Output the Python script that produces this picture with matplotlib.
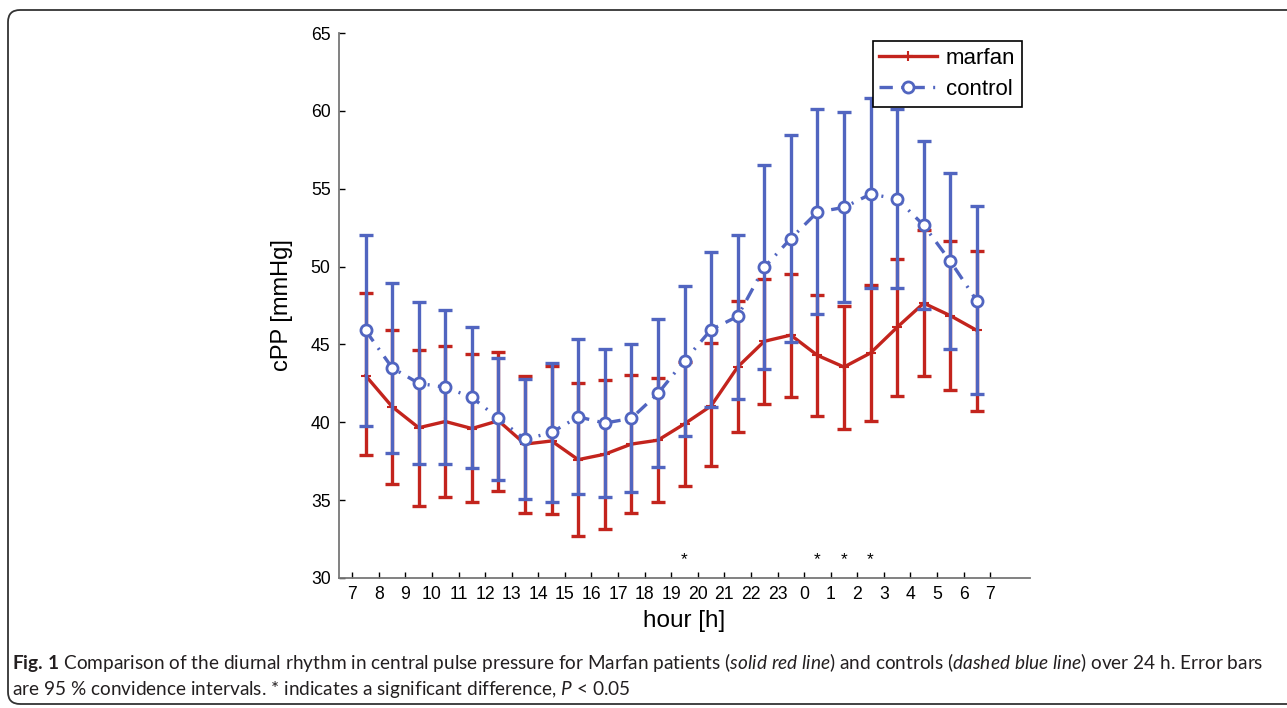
import numpy as np
import matplotlib
matplotlib.use("Agg")
import matplotlib.pyplot as plt
from matplotlib.patches import FancyBboxPatch
from matplotlib.transforms import IdentityTransform

# values (cPP in mmHg)
hour_labels = ['7', '8', '9', '10', '11', '12', '13', '14', '15', '16', '17', '18', '19',
               '20', '21', '22', '23', '0', '1', '2', '3', '4', '5', '6', '7']

marfan_mean = [43.0, 41.0, 39.65, 40.05, 39.6, 40.1, 38.6, 38.8, 37.6, 37.95, 38.6, 38.85,
               39.9, 41.05, 43.55, 45.2, 45.6, 44.3, 43.55, 44.45, 46.1, 47.65, 46.85, 45.9]
marfan_upper = [48.3, 45.9, 44.65, 44.9, 44.4, 44.5, 43.0, 43.6, 42.55, 42.7, 43.05, 42.85,
                43.9, 45.1, 47.8, 49.2, 49.55, 48.2, 47.5, 48.8, 50.5, 52.35, 51.65, 51.0]
marfan_lower = [37.9, 36.05, 34.6, 35.2, 34.85, 35.6, 34.2, 34.1, 32.7, 33.15, 34.2, 34.85,
                35.9, 37.2, 39.35, 41.2, 41.6, 40.4, 39.55, 40.1, 41.7, 42.95, 42.05, 40.75]

control_mean = [45.9, 43.5, 42.5, 42.25, 41.6, 40.25, 38.9, 39.35, 40.35, 39.95, 40.25, 41.85,
                43.95, 45.95, 46.8, 49.95, 51.8, 53.5, 53.8, 54.65, 54.35, 52.65, 50.35, 47.8]
control_upper = [52.05, 48.95, 47.75, 47.2, 46.15, 44.15, 42.8, 43.8, 45.35, 44.7, 45.0, 46.65,
                 48.75, 50.95, 52.05, 56.5, 58.45, 60.15, 59.95, 60.85, 60.1, 58.05, 56.0, 53.9]
control_lower = [39.75, 38.05, 37.3, 37.3, 37.05, 36.3, 35.05, 34.9, 35.4, 35.2, 35.55, 37.15,
                 39.1, 40.95, 41.5, 43.4, 45.15, 46.95, 47.7, 48.6, 48.65, 47.3, 44.7, 41.8]

# half-hour slots with a significant difference
signif_idx = [12, 17, 18, 19]

red = '#c3241d'
blue = '#5165c0'

plt.rcParams['font.family'] = ['Liberation Sans', 'DejaVu Sans']
plt.rcParams['mathtext.fontset'] = 'custom'
plt.rcParams['mathtext.rm'] = 'Lato'
plt.rcParams['mathtext.it'] = 'Lato:italic'
plt.rcParams['mathtext.bf'] = 'Lato:bold'

fig = plt.figure(figsize=(12.87, 7.08), dpi=100)
ax = fig.add_axes([339 / 1287, 1 - 578 / 708, (1030 - 339) / 1287, (578 - 33) / 708])

tick_pos = np.arange(len(hour_labels))
x = np.arange(len(marfan_mean)) + 0.5

mm = np.array(marfan_mean)
cm = np.array(control_mean)
m_err = [mm - np.array(marfan_lower), np.array(marfan_upper) - mm]
c_err = [cm - np.array(control_lower), np.array(control_upper) - cm]

# marfan (solid red)
ax.errorbar(x, mm, yerr=m_err, fmt='none', ecolor=red, elinewidth=2.4,
            capsize=5, capthick=2.4, zorder=2)
ax.plot(x, mm, color=red, lw=2.4, marker='+', ms=7, mew=1.5, label='marfan', zorder=3)

# control (dash-dot blue)
ax.errorbar(x, cm, yerr=c_err, fmt='none', ecolor=blue, elinewidth=2.4,
            capsize=5, capthick=2.4, zorder=4)
ax.plot(x, cm, color=blue, lw=2.4, dashes=(4, 2.5, 0.6, 2.5), marker='o', ms=8,
        mfc='white', mew=2, label='control', zorder=5)

for i in signif_idx:
    ax.text(x[i], 31.2, '*', ha='center', va='center', fontsize=12.5)

ax.set_xlim(-0.5, 25.5)
ax.set_ylim(30, 65)
ax.set_xticks(tick_pos)
ax.set_xticklabels(hour_labels)
ax.set_yticks(np.arange(30, 66, 5))
ax.tick_params(direction='in', length=4.5, width=1, labelsize=12.7, colors='black', pad=6)
for side in ['top', 'right']:
    ax.spines[side].set_visible(False)
for side in ['left', 'bottom']:
    ax.spines[side].set_color('#777777')
    ax.spines[side].set_linewidth(1.3)

ax.set_xlabel('hour [h]', fontsize=17.5, labelpad=5)
ax.set_ylabel('cPP [mmHg]', fontsize=17, labelpad=13)

leg = ax.legend(loc='upper right', bbox_to_anchor=(0.9885, 0.985), fontsize=16,
                fancybox=False, edgecolor='black', framealpha=1, handlelength=2.6,
                borderpad=0.3, labelspacing=0.45, handletextpad=0.4, borderaxespad=0)
leg.get_frame().set_linewidth(1.2)

# rounded frame around the panel
frame = FancyBboxPatch((8, 4), 1300, 694, boxstyle='round,pad=0,rounding_size=12',
                       transform=IdentityTransform(), fill=False, edgecolor='#333333', lw=1.3)
fig.add_artist(frame)

line1 = (r'$\mathbf{Fig.\,1}$ Comparison of the diurnal rhythm in central pulse pressure for '
         r'Marfan patients ($\mathit{solid\ red\ line}$) and controls '
         r'($\mathit{dashed\ blue\ line}$) over 24 h. Error bars')
line2 = r'are 95 % convidence intervals. * indicates a significant difference, $\mathit{P}$ < 0.05'

cap_kw = dict(family='Lato', color='#231f20', va='center', ha='left')
t1 = fig.text(12 / 1287, 1 - 663 / 708, line1, fontsize=12, **cap_kw)
t2 = fig.text(12 / 1287, 1 - 690 / 708, line2, fontsize=12, **cap_kw)

# fit the first caption line to the reference width
r = fig.canvas.get_renderer()
w = t1.get_window_extent(r).width
scale = 1250 / w
t1.set_fontsize(12 * scale)
t2.set_fontsize(12 * scale)

fig.savefig('out.png', dpi=100)
